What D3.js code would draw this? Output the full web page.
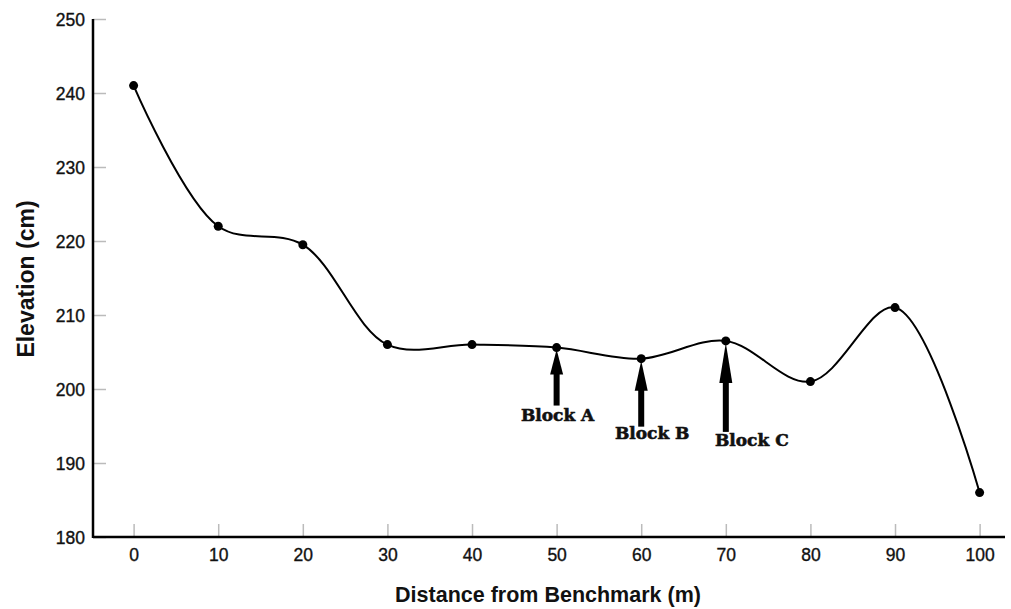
<!DOCTYPE html>
<html>
<head>
<meta charset="utf-8">
<script src="https://cdn.jsdelivr.net/npm/d3@7"></script>
<style>
  body { margin: 0; background: #fff; }
  .tick text { font-family: "Liberation Sans", Arial, sans-serif; font-size: 17.5px; fill: #111; stroke: #111; stroke-width: 0.35px; }
  .title { font-family: "Liberation Sans", Arial, sans-serif; font-size: 21.5px; font-weight: bold; fill: #111; }
  .block { font-family: "DejaVu Serif", serif; font-size: 17px; font-weight: bold; fill: #111; stroke: #111; stroke-width: 0.6px; }
</style>
</head>
<body>
<div class="container"></div>
<script>
const distances = [0, 10, 20, 30, 40, 50, 60, 70, 80, 90, 100];
const elevations = [241, 222, 219.5, 206, 206, 205.6, 204.1, 206.5, 201, 211, 186];
const yTicks = [180, 190, 200, 210, 220, 230, 240, 250];
const blockLabels = ["Block A", "Block B", "Block C"];
const blockDistances = [50, 60, 70];

const width = 1011;
const height = 609;
const margin = {top: 19, right: 6, bottom: 72, left: 93};

const svg = d3.select(".container").append("svg").attr("width", width).attr("height", height);

const x = d3.scaleLinear().domain([-4.8, 103]).range([margin.left, width - margin.right]);
const y = d3.scaleLinear().domain([180, 250]).range([height - margin.bottom, margin.top]);

// x axis
const xAxis = svg.append("g")
    .attr("transform", `translate(0,${y(180)})`)
    .call(d3.axisBottom(x).tickValues(distances).tickSize(-13).tickPadding(9).tickFormat(d3.format("d")));
xAxis.select(".domain").remove();
xAxis.selectAll(".tick line").attr("stroke", "#bbb").attr("stroke-width", 1.5);
xAxis.selectAll(".tick text").attr("dy", "0.85em");

// y axis
const yAxis = svg.append("g")
    .attr("transform", `translate(${margin.left},0)`)
    .call(d3.axisLeft(y).tickValues(yTicks).tickSize(-13).tickPadding(8));
yAxis.select(".domain").remove();
yAxis.selectAll(".tick line").attr("stroke", "#bbb").attr("stroke-width", 1.5);
yAxis.selectAll(".tick text").attr("dy", "0.35em");

// axis lines
svg.append("line")
    .attr("x1", margin.left).attr("x2", width - margin.right)
    .attr("y1", y(180)).attr("y2", y(180))
    .attr("stroke", "#000").attr("stroke-width", 2.5);
svg.append("line")
    .attr("x1", margin.left).attr("x2", margin.left)
    .attr("y1", y(250)).attr("y2", y(180) + 1)
    .attr("stroke", "#000").attr("stroke-width", 2.5);

// curve
const pts = distances.map((d, i) => ({d: d, e: elevations[i]}));
const line = d3.line()
    .x(p => x(p.d))
    .y(p => y(p.e))
    .curve(d3.curveCatmullRom.alpha(0.5));

svg.append("path")
    .datum(pts)
    .attr("d", line)
    .attr("fill", "none")
    .attr("stroke", "#000")
    .attr("stroke-width", 2);

svg.append("g").selectAll("circle")
    .data(pts)
    .enter().append("circle")
      .attr("cx", p => x(p.d))
      .attr("cy", p => y(p.e))
      .attr("r", 4.5)
      .attr("fill", "#000");

// block arrows
const arrowLen = [56, 66, 89];
const headLen = [25, 30, 40];
const labelDrop = [73, 80, 105];
const labelShift = [1, 11, 26];
blockLabels.forEach((label, i) => {
  const d = blockDistances[i];
  const e = elevations[distances.indexOf(d)];
  const tx = x(d);
  const ty = y(e) + 2;
  const by = ty + arrowLen[i];
  svg.append("rect")
      .attr("x", tx - 3).attr("y", ty + headLen[i] - 2)
      .attr("width", 6).attr("height", by - ty - headLen[i] + 2)
      .attr("fill", "#000");
  svg.append("path")
      .attr("d", `M${tx},${ty} L${tx - 6.5},${ty + headLen[i]} L${tx + 6.5},${ty + headLen[i]} Z`)
      .attr("fill", "#000");
  svg.append("text")
      .attr("class", "block")
      .attr("x", tx + labelShift[i])
      .attr("y", y(e) + labelDrop[i])
      .attr("text-anchor", "middle")
      .text(label);
});

// titles
svg.append("text")
    .attr("class", "title")
    .attr("x", 548).attr("y", 602)
    .attr("text-anchor", "middle")
    .text("Distance from Benchmark (m)");
svg.append("text")
    .attr("class", "title")
    .style("font-size", "23px")
    .attr("transform", `translate(34,279) rotate(-90)`)
    .attr("text-anchor", "middle")
    .text("Elevation (cm)");
</script>
</body>
</html>
